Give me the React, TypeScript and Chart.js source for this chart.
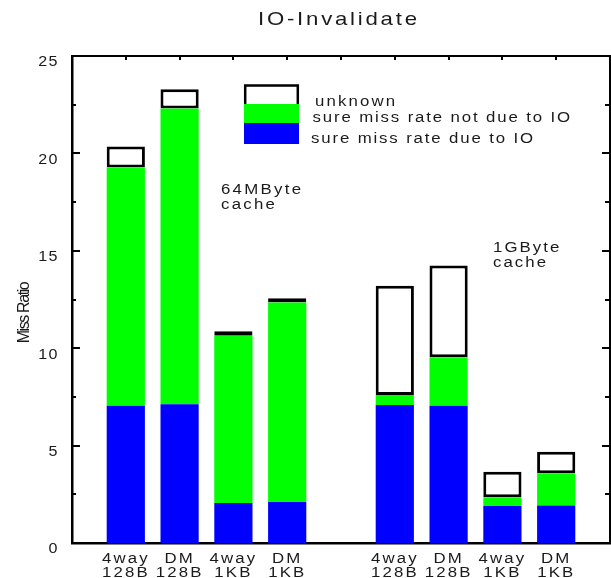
import React, { useEffect, useRef } from 'react';
import { Chart, registerables } from 'chart.js';

Chart.register(...registerables);

const categories: (string | string[])[] = [
  '',
  ['4way', '128B'],
  ['DM', '128B'],
  ['4way', '1KB'],
  ['DM', '1KB'],
  '',
  ['4way', '128B'],
  ['DM', '128B'],
  ['4way', '1KB'],
  ['DM', '1KB'],
  '',
];
const sureDueToIO = [null, 7.05, 7.12, 2.05, 2.1, null, 7.08, 7.05, 1.9, 1.92, null];
const sureNotDueToIO = [null, 12.22, 15.19, 8.59, 10.24, null, 0.52, 2.48, 0.45, 1.66, null];
const unknownPart = [null, 1.08, 0.98, 0.23, 0.22, null, 5.61, 4.71, 1.31, 1.11, null];
const yTickValues = { min: 0, max: 25, step: 2.5 };
const titleText = 'IO-Invalidate';
const yTitle = 'Miss Ratio';
const legendLabels = ['unknown', 'sure miss rate not due to IO', 'sure miss rate due to IO'];
const notes = [
  ['64MByte', 'cache'],
  ['1GByte', 'cache'],
];

const FONT = '"Liberation Sans", Arial, Helvetica, sans-serif';
const TEXT = '#1a1a1a';

function wideText(
  ctx: CanvasRenderingContext2D,
  text: string,
  x: number,
  y: number,
  size: number,
  sx: number,
  ls: number,
  align: CanvasTextAlign = 'left'
) {
  ctx.save();
  ctx.font = `${size}px ${FONT}`;
  (ctx as any).letterSpacing = `${ls}px`;
  let ax = x;
  if (align === 'right') ax += ls * sx;
  if (align === 'center') ax += (ls * sx) / 2;
  ctx.translate(ax, y);
  ctx.scale(sx, 1);
  ctx.textAlign = align;
  ctx.textBaseline = 'alphabetic';
  ctx.fillText(text, 0, 0);
  ctx.restore();
}

const decorPlugin = {
  id: 'decor',
  afterDraw(chart: any) {
    const ctx = chart.ctx as CanvasRenderingContext2D;
    const { left, right, top, bottom } = chart.chartArea;
    const ys = chart.scales.y;
    const xs = chart.scales.x;
    ctx.save();
    ctx.strokeStyle = '#000';
    ctx.lineWidth = 2;
    // top & right frame
    ctx.beginPath();
    ctx.moveTo(left - 1, top);
    ctx.lineTo(right, top);
    ctx.moveTo(right, top - 1);
    ctx.lineTo(right, bottom + 1);
    ctx.stroke();
    // y ticks (inner), both sides
    ys.ticks.forEach((t: any) => {
      const y = Math.round(ys.getPixelForValue(t.value));
      if (t.value <= 0 || t.value >= 25) return;
      const major = t.value % 5 === 0;
      ctx.beginPath();
      ctx.moveTo(left, y);
      ctx.lineTo(left + (major ? 8 : 4), y);
      ctx.moveTo(right, y);
      ctx.lineTo(right - (major ? 8 : 5), y);
      ctx.stroke();
    });
    // top ticks at category positions
    const labels = xs.getLabels();
    for (let i = 1; i < labels.length - 1; i++) {
      const x = Math.round(xs.getPixelForTick(i));
      ctx.beginPath();
      ctx.moveTo(x, top);
      ctx.lineTo(x, top + 4);
      ctx.stroke();
    }

    ctx.fillStyle = TEXT;
    // y tick labels (hang below their tick)
    ys.ticks.forEach((t: any) => {
      if (!t.label) return;
      const y = ys.getPixelForValue(t.value);
      wideText(ctx, String(t.label), left - 14.5, y + 10.3, 14, 1.15, 1.2, 'right');
    });
    // x tick labels
    labels.forEach((lab: any, i: number) => {
      if (!lab || (Array.isArray(lab) && lab.length === 0)) return;
      const lines = Array.isArray(lab) ? lab : [lab];
      const x = xs.getPixelForTick(i);
      lines.forEach((ln: string, j: number) => {
        wideText(ctx, ln, x - 1, bottom + 19.5 + j * 14.2, 14, 1.2, 1.8, 'center');
      });
    });

    // title
    wideText(ctx, titleText, 258, 25, 18.5, 1.2, 2.3);

    // legend swatch
    ctx.fillStyle = '#0000ff';
    ctx.fillRect(244, 123, 55, 21);
    ctx.fillStyle = '#00ff00';
    ctx.fillRect(244, 104, 55, 19);
    ctx.fillStyle = '#fff';
    ctx.fillRect(244, 84, 55, 20);
    ctx.lineWidth = 2.5;
    ctx.beginPath();
    ctx.moveTo(245.2, 104);
    ctx.lineTo(245.2, 85.5);
    ctx.lineTo(297.8, 85.5);
    ctx.lineTo(297.8, 104);
    ctx.stroke();

    ctx.fillStyle = TEXT;
    wideText(ctx, legendLabels[0], 315, 105.5, 14, 1.2, 1.8);
    wideText(ctx, legendLabels[1], 312.5, 122.3, 14, 1.2, 1.55);
    wideText(ctx, legendLabels[2], 311, 142.5, 14, 1.2, 1.55);

    // annotations
    wideText(ctx, notes[0][0], 221, 194.3, 14, 1.2, 1.9);
    wideText(ctx, notes[0][1], 221, 209, 14, 1.2, 1.9);
    wideText(ctx, notes[1][0], 493, 252.3, 14, 1.2, 1.7);
    wideText(ctx, notes[1][1], 493, 266.7, 14, 1.2, 1.7);

    // y title
    ctx.save();
    ctx.font = `16px ${FONT}`;
    (ctx as any).letterSpacing = '-1.4px';
    ctx.translate(28.5, 313);
    ctx.rotate(-Math.PI / 2);
    ctx.textAlign = 'center';
    ctx.textBaseline = 'alphabetic';
    ctx.fillText(yTitle, 0, 0);
    ctx.restore();

    ctx.restore();
  },
};

export default function App() {
  const ref = useRef<HTMLCanvasElement | null>(null);
  useEffect(() => {
    document.body.style.margin = '0';
    const canvas = ref.current;
    if (!canvas) return;
    const chart = new Chart(canvas, {
      type: 'bar',
      data: {
        labels: categories,
        datasets: [
          {
            label: legendLabels[2],
            data: sureDueToIO,
            backgroundColor: '#0000ff',
            borderWidth: 0,
          },
          {
            label: legendLabels[1],
            data: sureNotDueToIO,
            backgroundColor: '#00ff00',
            borderWidth: 0,
          },
          {
            label: legendLabels[0],
            data: unknownPart,
            backgroundColor: '#ffffff',
            borderColor: '#000000',
            borderWidth: 3,
            borderSkipped: false,
          },
        ] as any,
      },
      plugins: [decorPlugin],
      options: {
        responsive: false,
        animation: false,
        events: [],
        layout: { padding: { top: 56, right: 1, left: 0, bottom: 0 } },
        datasets: { bar: { barPercentage: 0.71, categoryPercentage: 1 } },
        plugins: { legend: { display: false }, title: { display: false }, tooltip: { enabled: false } },
        scales: {
          x: {
            stacked: true,
            offset: false,
            grid: { display: false, drawTicks: false },
            border: { display: true, color: '#000', width: 2.5 },
            ticks: { display: false, autoSkip: false, maxRotation: 0 },
            afterFit: (s: any) => {
              s.height = 35;
            },
          },
          y: {
            stacked: true,
            min: yTickValues.min,
            max: yTickValues.max,
            grid: { display: false, drawTicks: false },
            border: { display: true, color: '#000', width: 2.5 },
            ticks: {
              display: false,
              stepSize: yTickValues.step,
              callback: (v: any) => (Number(v) % 5 === 0 ? String(v) : ''),
            },
            afterFit: (s: any) => {
              s.width = 72;
            },
          },
        },
      } as any,
    });
    return () => chart.destroy();
  }, []);
  return <canvas ref={ref} width={611} height={578} style={{ display: 'block' }} />;
}
